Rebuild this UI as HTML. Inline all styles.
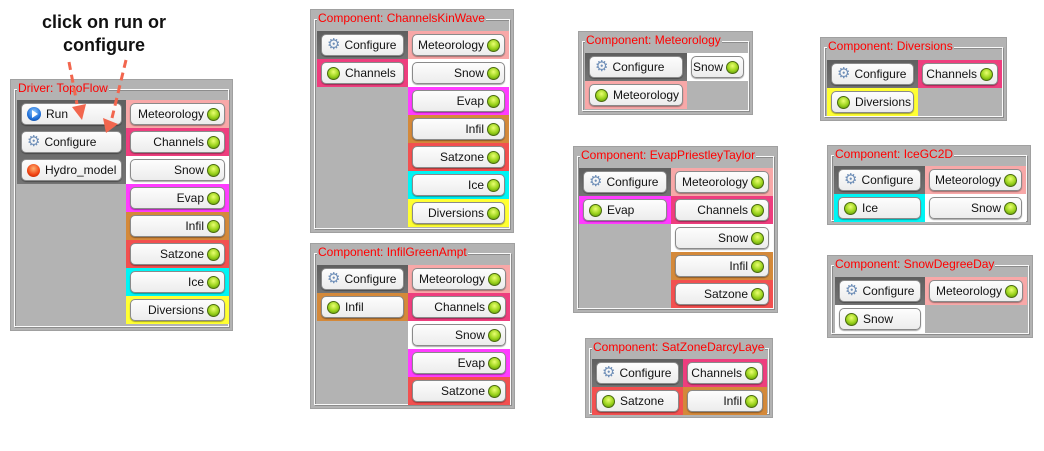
<!DOCTYPE html>
<html><head><meta charset="utf-8"><style>
*{box-sizing:border-box;margin:0;padding:0}
body{width:1044px;height:451px;background:#fff;position:relative;overflow:hidden;font-family:"Liberation Sans",sans-serif}
.p{position:absolute;background:#b3b3b3;border:1px solid #a0a0a0}
.f{position:absolute;left:3px;top:9px;right:3px;bottom:3px;border:1px solid #fafafa;box-shadow:inset 1px 1px 0 #8c8c8c,1px 1px 0 #8c8c8c}
.lg{position:absolute;left:6px;top:1px;background:#b3b3b3;color:#f00;font-size:12px;line-height:14px;padding:0 1px;white-space:nowrap}
.c{position:absolute;height:28px}
.d{background:linear-gradient(#5f5f5f,#747474)}
.b{position:absolute;left:4px;right:4px;top:3px;height:22px;border-radius:5px;background:linear-gradient(#fdfdfd,#ececec);border:1px solid #8a8a8a;box-shadow:0 1px 1px rgba(0,0,0,.35);font-size:12px;line-height:20px;color:#111;white-space:nowrap;display:flex;align-items:center;overflow:hidden}
.r{justify-content:flex-end;padding-right:4px}
.l{padding-left:5px}
.g{display:inline-block;width:13px;height:13px;border-radius:50%;background:radial-gradient(circle at 50% 35%,#eaff70,#9bd31c 55%,#4f8a06);border:1px solid #4a6a10;margin-left:3px;flex:none}
.l .g{margin-left:0;margin-right:5px}
.gear{color:#6f8fb8;font-size:15px;margin-right:4px;line-height:16px}
.run{display:inline-block;width:14px;height:14px;border-radius:50%;background:radial-gradient(circle at 50% 35%,#8cc8ff,#1f6fd8 60%,#0a3f8c);margin-right:5px;position:relative;flex:none}
.run:after{content:"";position:absolute;left:5px;top:3px;border-left:6px solid #fff;border-top:4px solid transparent;border-bottom:4px solid transparent}
.red{display:inline-block;width:13px;height:13px;border-radius:50%;background:radial-gradient(circle at 50% 35%,#ffb070,#f04010 60%,#a02000);margin-right:5px;flex:none}
.mp{background:#f8a8a8}.ch{background:#ee3e7e}.sn{background:#fff}.ev{background:#ff3cff}.in{background:#d4893a}.sz{background:#f25050}.ic{background:#00f5f5}.dv{background:#ffff33}
.t{position:absolute;font-weight:bold;font-size:18px;color:#111;text-align:center;width:200px;left:4px}
</style></head><body>
<div class="t" style="top:12px">click on run or</div>
<div class="t" style="top:35px">configure</div>

<!-- Driver -->
<div class="p" style="left:10px;top:79px;width:223px;height:252px"><div class="f"></div><div class="lg">Driver: TopoFlow</div>
<div class="c d" style="left:6px;top:20px;width:109px;height:84px"></div>
<div class="c" style="left:6px;top:20px;width:109px"><div class="b l"><span class="run"></span>Run</div></div>
<div class="c" style="left:6px;top:48px;width:109px"><div class="b l"><span class="gear">⚙</span>Configure</div></div>
<div class="c" style="left:6px;top:76px;width:109px"><div class="b l"><span class="red"></span>Hydro_model</div></div>
<div class="c mp" style="left:115px;top:20px;width:103px"><div class="b r">Meteorology<i class="g"></i></div></div>
<div class="c ch" style="left:115px;top:48px;width:103px"><div class="b r">Channels<i class="g"></i></div></div>
<div class="c sn" style="left:115px;top:76px;width:103px"><div class="b r">Snow<i class="g"></i></div></div>
<div class="c ev" style="left:115px;top:104px;width:103px"><div class="b r">Evap<i class="g"></i></div></div>
<div class="c in" style="left:115px;top:132px;width:103px"><div class="b r">Infil<i class="g"></i></div></div>
<div class="c sz" style="left:115px;top:160px;width:103px"><div class="b r">Satzone<i class="g"></i></div></div>
<div class="c ic" style="left:115px;top:188px;width:103px"><div class="b r">Ice<i class="g"></i></div></div>
<div class="c dv" style="left:115px;top:216px;width:103px"><div class="b r">Diversions<i class="g"></i></div></div>
</div>

<svg style="position:absolute;left:0;top:0;z-index:5" width="240" height="140">
<line x1="69" y1="62" x2="77" y2="104" stroke="#f2664e" stroke-width="3" stroke-dasharray="8,5"/>
<polygon points="72,107 86,104 82,120" fill="#f2664e"/>
<line x1="126" y1="60" x2="112" y2="118" stroke="#f2664e" stroke-width="3" stroke-dasharray="8,5"/>
<polygon points="103,118 118,124 106,133" fill="#f2664e"/>
</svg>

<!-- ChannelsKinWave -->
<div class="p" style="left:310px;top:9px;width:204px;height:224px"><div class="f"></div><div class="lg">Component: ChannelsKinWave</div>
<div class="c d" style="left:6px;top:21px;width:91px"><div class="b l"><span class="gear">⚙</span>Configure</div></div>
<div class="c ch" style="left:6px;top:49px;width:91px"><div class="b l"><i class="g"></i>Channels</div></div>
<div class="c mp" style="left:97px;top:21px;width:101px"><div class="b r">Meteorology<i class="g"></i></div></div>
<div class="c sn" style="left:97px;top:49px;width:101px"><div class="b r">Snow<i class="g"></i></div></div>
<div class="c ev" style="left:97px;top:77px;width:101px"><div class="b r">Evap<i class="g"></i></div></div>
<div class="c in" style="left:97px;top:105px;width:101px"><div class="b r">Infil<i class="g"></i></div></div>
<div class="c sz" style="left:97px;top:133px;width:101px"><div class="b r">Satzone<i class="g"></i></div></div>
<div class="c ic" style="left:97px;top:161px;width:101px"><div class="b r">Ice<i class="g"></i></div></div>
<div class="c dv" style="left:97px;top:189px;width:101px"><div class="b r">Diversions<i class="g"></i></div></div>
</div>

<!-- InfilGreenAmpt -->
<div class="p" style="left:310px;top:243px;width:205px;height:166px"><div class="f"></div><div class="lg">Component: InfilGreenAmpt</div>
<div class="c d" style="left:6px;top:21px;width:91px"><div class="b l"><span class="gear">⚙</span>Configure</div></div>
<div class="c in" style="left:6px;top:49px;width:91px"><div class="b l"><i class="g"></i>Infil</div></div>
<div class="c mp" style="left:97px;top:21px;width:102px"><div class="b r">Meteorology<i class="g"></i></div></div>
<div class="c ch" style="left:97px;top:49px;width:102px"><div class="b r">Channels<i class="g"></i></div></div>
<div class="c sn" style="left:97px;top:77px;width:102px"><div class="b r">Snow<i class="g"></i></div></div>
<div class="c ev" style="left:97px;top:105px;width:102px"><div class="b r">Evap<i class="g"></i></div></div>
<div class="c sz" style="left:97px;top:133px;width:102px"><div class="b r">Satzone<i class="g"></i></div></div>
</div>

<!-- Meteorology -->
<div class="p" style="left:578px;top:31px;width:175px;height:84px"><div class="f"></div><div class="lg">Component: Meteorology</div>
<div class="c d" style="left:6px;top:21px;width:102px"><div class="b l"><span class="gear">⚙</span>Configure</div></div>
<div class="c mp" style="left:6px;top:49px;width:102px"><div class="b l"><i class="g"></i>Meteorology</div></div>
<div class="c sn" style="left:108px;top:21px;width:61px"><div class="b r">Snow<i class="g"></i></div></div>
</div>

<!-- EvapPriestleyTaylor -->
<div class="p" style="left:573px;top:146px;width:205px;height:167px"><div class="f"></div><div class="lg">Component: EvapPriestleyTaylor</div>
<div class="c d" style="left:5px;top:21px;width:92px"><div class="b l"><span class="gear">⚙</span>Configure</div></div>
<div class="c ev" style="left:5px;top:49px;width:92px"><div class="b l"><i class="g"></i>Evap</div></div>
<div class="c mp" style="left:97px;top:21px;width:102px"><div class="b r">Meteorology<i class="g"></i></div></div>
<div class="c ch" style="left:97px;top:49px;width:102px"><div class="b r">Channels<i class="g"></i></div></div>
<div class="c sn" style="left:97px;top:77px;width:102px"><div class="b r">Snow<i class="g"></i></div></div>
<div class="c in" style="left:97px;top:105px;width:102px"><div class="b r">Infil<i class="g"></i></div></div>
<div class="c sz" style="left:97px;top:133px;width:102px"><div class="b r">Satzone<i class="g"></i></div></div>
</div>

<!-- SatZoneDarcyLaye -->
<div class="p" style="left:585px;top:338px;width:188px;height:80px"><div class="f"></div><div class="lg">Component: SatZoneDarcyLaye</div>
<div class="c d" style="left:6px;top:20px;width:91px"><div class="b l"><span class="gear">⚙</span>Configure</div></div>
<div class="c sz" style="left:6px;top:48px;width:91px"><div class="b l"><i class="g"></i>Satzone</div></div>
<div class="c ch" style="left:97px;top:20px;width:84px"><div class="b r">Channels<i class="g"></i></div></div>
<div class="c in" style="left:97px;top:48px;width:84px"><div class="b r">Infil<i class="g"></i></div></div>
</div>

<!-- Diversions -->
<div class="p" style="left:820px;top:37px;width:187px;height:84px"><div class="f"></div><div class="lg">Component: Diversions</div>
<div class="c d" style="left:6px;top:22px;width:91px"><div class="b l"><span class="gear">⚙</span>Configure</div></div>
<div class="c dv" style="left:6px;top:50px;width:91px"><div class="b l"><i class="g"></i>Diversions</div></div>
<div class="c ch" style="left:97px;top:22px;width:84px"><div class="b r">Channels<i class="g"></i></div></div>
</div>

<!-- IceGC2D -->
<div class="p" style="left:827px;top:145px;width:204px;height:80px"><div class="f"></div><div class="lg">Component: IceGC2D</div>
<div class="c d" style="left:6px;top:20px;width:91px"><div class="b l"><span class="gear">⚙</span>Configure</div></div>
<div class="c ic" style="left:6px;top:48px;width:91px"><div class="b l"><i class="g"></i>Ice</div></div>
<div class="c mp" style="left:97px;top:20px;width:101px"><div class="b r">Meteorology<i class="g"></i></div></div>
<div class="c sn" style="left:97px;top:48px;width:101px"><div class="b r">Snow<i class="g"></i></div></div>
</div>

<!-- SnowDegreeDay -->
<div class="p" style="left:827px;top:255px;width:206px;height:83px"><div class="f"></div><div class="lg">Component: SnowDegreeDay</div>
<div class="c d" style="left:7px;top:21px;width:90px"><div class="b l"><span class="gear">⚙</span>Configure</div></div>
<div class="c sn" style="left:7px;top:49px;width:90px"><div class="b l"><i class="g"></i>Snow</div></div>
<div class="c mp" style="left:97px;top:21px;width:102px"><div class="b r">Meteorology<i class="g"></i></div></div>
</div>
</body></html>
